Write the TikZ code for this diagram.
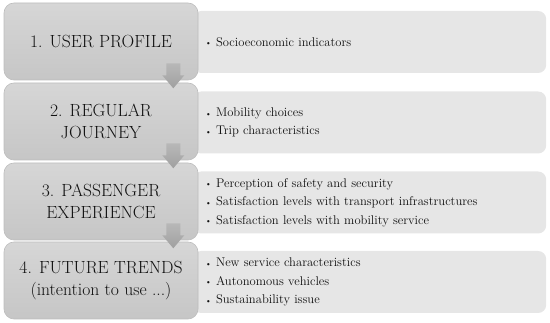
\documentclass[tikz,border=0pt]{standalone}
\usetikzlibrary{calc}
\definecolor{leftfill}{HTML}{CFCFCF}
\definecolor{lefttop}{HTML}{D6D6D6}
\definecolor{leftbot}{HTML}{C6C6C6}
\definecolor{leftdraw}{HTML}{BDBDBD}
\definecolor{rightfill}{HTML}{E6E6E6}
\definecolor{arrowtop}{HTML}{B8B8B8}
\definecolor{arrowbot}{HTML}{A0A0A0}
\definecolor{txt}{HTML}{111111}
\tikzset{
  stagebox/.style={rounded corners=10pt, top color=lefttop, bottom color=leftbot, draw=leftdraw, line width=0.6pt,
    minimum width=194pt, minimum height=77pt, align=center, text=txt,
    font=\fontsize{17.6}{22.5}\selectfont, inner sep=0pt},
  itembox/.style={rounded corners=8pt, fill=rightfill, minimum height=62pt, text width=329pt,
    inner xsep=12pt, inner ysep=0pt, align=left, anchor=west, text=txt,
    font=\fontsize{12.6}{18.5}\selectfont},
  blockarrow/.style={top color=arrowtop, bottom color=arrowbot}
}
\newcommand{\bul}{{\footnotesize\raisebox{0.1ex}{\textbullet}}\ }
\begin{document}
\begin{tikzpicture}[x=1pt,y=-1pt]
\useasboundingbox (0,0) rectangle (550,323);
% right boxes
\node[itembox] (r1) at (193,42) {\bul Socioeconomic indicators};
\node[itembox] (r2) at (193,122.5) {\bul Mobility choices\\ \bul Trip characteristics};
\node[itembox] (r3) at (193,202.5) {\bul Perception of safety and security\\ \bul Satisfaction levels with transport infrastructures\\ \bul Satisfaction levels with mobility service};
\node[itembox] (r4) at (193,282) {\bul New service characteristics\\ \bul Autonomous vehicles\\ \bul Sustainability issue};
% left boxes
\node[stagebox] (b1) at (101,41.5) {1. USER PROFILE};
\node[stagebox] (b2) at (101,121.5) {2. REGULAR\\ JOURNEY};
\node[stagebox] (b3) at (101,201.5) {3. PASSENGER\\ EXPERIENCE};
\node[stagebox] (b4) at (101,280.5) {4. FUTURE TRENDS\\ (intention to use ...)};
% arrows between stages
\foreach \a/\b in {b1/b2,b2/b3,b3/b4}{
  \coordinate (s) at ($(\a.south east)+(-25,-17)$);
  \shade[blockarrow, shift={(s)}] (-7,0) -- (7,0) -- (7,12) -- (11,12) -- (0,25) -- (-11,12) -- (-7,12) -- cycle;
}
\end{tikzpicture}
\end{document}
